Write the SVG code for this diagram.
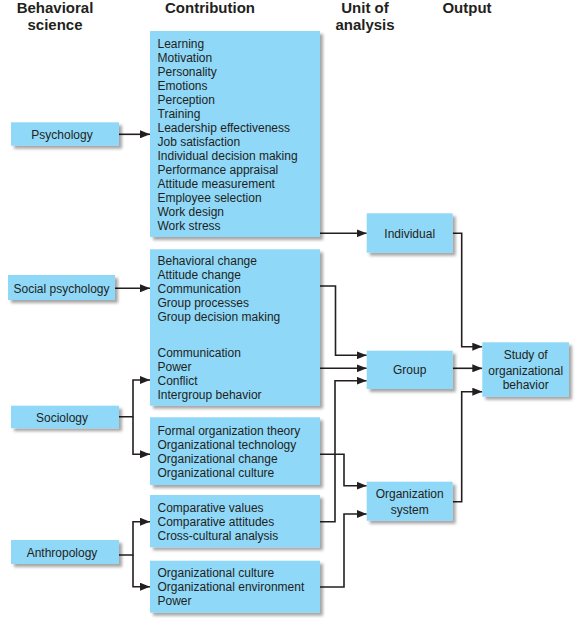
<svg xmlns="http://www.w3.org/2000/svg" width="585" height="629" viewBox="0 0 585 629">
<style>
.box{fill:#8fd8f8;filter:url(#sh)}
.t{font-family:"Liberation Sans",Arial,sans-serif;font-size:12px;fill:#231f20}
.h{font-family:"Liberation Sans",Arial,sans-serif;font-size:15px;font-weight:bold;fill:#231f20;text-anchor:middle}
.c{text-anchor:middle}
.ln{fill:none;stroke:#231f20;stroke-width:1.6;marker-end:url(#ah)}
.lp{fill:none;stroke:#231f20;stroke-width:1.6}
</style>
<defs>
<filter id="sh" x="-10%" y="-10%" width="130%" height="140%">
<feDropShadow dx="3" dy="3" stdDeviation="1.8" flood-color="#000" flood-opacity="0.35"/>
</filter>
<marker id="ah" viewBox="0 0 10 8" refX="10" refY="4" markerWidth="10" markerHeight="8" markerUnits="userSpaceOnUse" orient="auto">
<path d="M0,0 L10,4 L0,8 Z" fill="#231f20"/>
</marker>
</defs>
<rect width="585" height="629" fill="#fff"/>
<g id="headers">
<text class="h" x="55" y="13">Behavioral</text>
<text class="h" x="55" y="29.5">science</text>
<text class="h" x="210" y="13">Contribution</text>
<text class="h" x="365" y="13">Unit of</text>
<text class="h" x="365" y="29.5">analysis</text>
<text class="h" x="467" y="13">Output</text>
</g>
<g id="connectors">
<path class="ln" d="M119,134.3 H150"/>
<path class="ln" d="M115,288.3 H150"/>
<path class="ln" d="M119,416.7 H133 V380 H150"/>
<path class="ln" d="M133,416.7 V454.3 H150"/>
<path class="ln" d="M119,555 H133 V521.7 H150"/>
<path class="ln" d="M133,555 V586.7 H150"/>
<path class="ln" d="M320,233.3 H366.7"/>
<path class="ln" d="M320,286 H335.5 V355.3 H366.7"/>
<path class="ln" d="M320,368.3 H366.7"/>
<path class="ln" d="M320,521.7 H335 V380.7 H366.7"/>
<path class="ln" d="M320,454.3 H344 V485.7 H366.7"/>
<path class="ln" d="M320,587 H344 V514 H366.7"/>
<path class="ln" d="M452.7,233.3 H461.7 V346.7 H482.3"/>
<path class="ln" d="M452.7,368.3 H482.3"/>
<path class="ln" d="M452.7,501.7 H461.7 V391.7 H482.3"/>
</g>
<g id="psychology">
<rect class="box" x="11" y="122.3" width="108" height="23.4"/>
<text class="t c" x="62" y="138.5">Psychology</text>
</g>
<g id="social-psychology">
<rect class="box" x="8" y="275" width="107" height="25"/>
<text class="t c" x="61.5" y="292.5">Social psychology</text>
</g>
<g id="sociology">
<rect class="box" x="11" y="405.7" width="108" height="22.5"/>
<text class="t c" x="62" y="421.5">Sociology</text>
</g>
<g id="anthropology">
<rect class="box" x="11" y="540" width="108" height="24"/>
<text class="t c" x="62" y="556.5">Anthropology</text>
</g>
<g id="contrib-psychology">
<rect class="box" x="150" y="31" width="170" height="206"/>
<text class="t" x="157.5" y="47.5">Learning</text>
<text class="t" x="157.5" y="61.5">Motivation</text>
<text class="t" x="157.5" y="75.5">Personality</text>
<text class="t" x="157.5" y="89.5">Emotions</text>
<text class="t" x="157.5" y="103.5">Perception</text>
<text class="t" x="157.5" y="117.5">Training</text>
<text class="t" x="157.5" y="131.5">Leadership effectiveness</text>
<text class="t" x="157.5" y="145.5">Job satisfaction</text>
<text class="t" x="157.5" y="159.5">Individual decision making</text>
<text class="t" x="157.5" y="173.5">Performance appraisal</text>
<text class="t" x="157.5" y="187.5">Attitude measurement</text>
<text class="t" x="157.5" y="201.5">Employee selection</text>
<text class="t" x="157.5" y="215.5">Work design</text>
<text class="t" x="157.5" y="229.5">Work stress</text>
</g>
<g id="contrib-social">
<rect class="box" x="150" y="249.3" width="170" height="156.4"/>
<text class="t" x="157.5" y="265.2">Behavioral change</text>
<text class="t" x="157.5" y="279.2">Attitude change</text>
<text class="t" x="157.5" y="293.2">Communication</text>
<text class="t" x="157.5" y="307.2">Group processes</text>
<text class="t" x="157.5" y="321.2">Group decision making</text>
<text class="t" x="157.5" y="357">Communication</text>
<text class="t" x="157.5" y="371">Power</text>
<text class="t" x="157.5" y="385">Conflict</text>
<text class="t" x="157.5" y="399">Intergroup behavior</text>
</g>
<g id="contrib-sociology">
<rect class="box" x="150" y="417.3" width="170" height="67.7"/>
<text class="t" x="157.5" y="435">Formal organization theory</text>
<text class="t" x="157.5" y="449">Organizational technology</text>
<text class="t" x="157.5" y="463">Organizational change</text>
<text class="t" x="157.5" y="477">Organizational culture</text>
</g>
<g id="contrib-anthro-1">
<rect class="box" x="150" y="495" width="170" height="52.3"/>
<text class="t" x="157.5" y="512">Comparative values</text>
<text class="t" x="157.5" y="526">Comparative attitudes</text>
<text class="t" x="157.5" y="540">Cross-cultural analysis</text>
</g>
<g id="contrib-anthro-2">
<rect class="box" x="150" y="560.7" width="170" height="52"/>
<text class="t" x="157.5" y="577.3">Organizational culture</text>
<text class="t" x="157.5" y="591.3">Organizational environment</text>
<text class="t" x="157.5" y="605.3">Power</text>
</g>
<g id="individual">
<rect class="box" x="366.7" y="213.3" width="86" height="39.4"/>
<text class="t c" x="409.7" y="237.5">Individual</text>
</g>
<g id="group">
<rect class="box" x="366.7" y="350.7" width="86" height="38.3"/>
<text class="t c" x="409.7" y="374.3">Group</text>
</g>
<g id="organization-system">
<rect class="box" x="366.7" y="481.7" width="86" height="39"/>
<text class="t c" x="409.7" y="498.3">Organization</text>
<text class="t c" x="409.7" y="514.3">system</text>
</g>
<g id="study">
<rect class="box" x="482.3" y="342.3" width="86.7" height="54.4"/>
<text class="t c" x="525.7" y="358.6">Study of</text>
<text class="t c" x="525.7" y="375">organizational</text>
<text class="t c" x="525.7" y="389.3">behavior</text>
</g>
</svg>
